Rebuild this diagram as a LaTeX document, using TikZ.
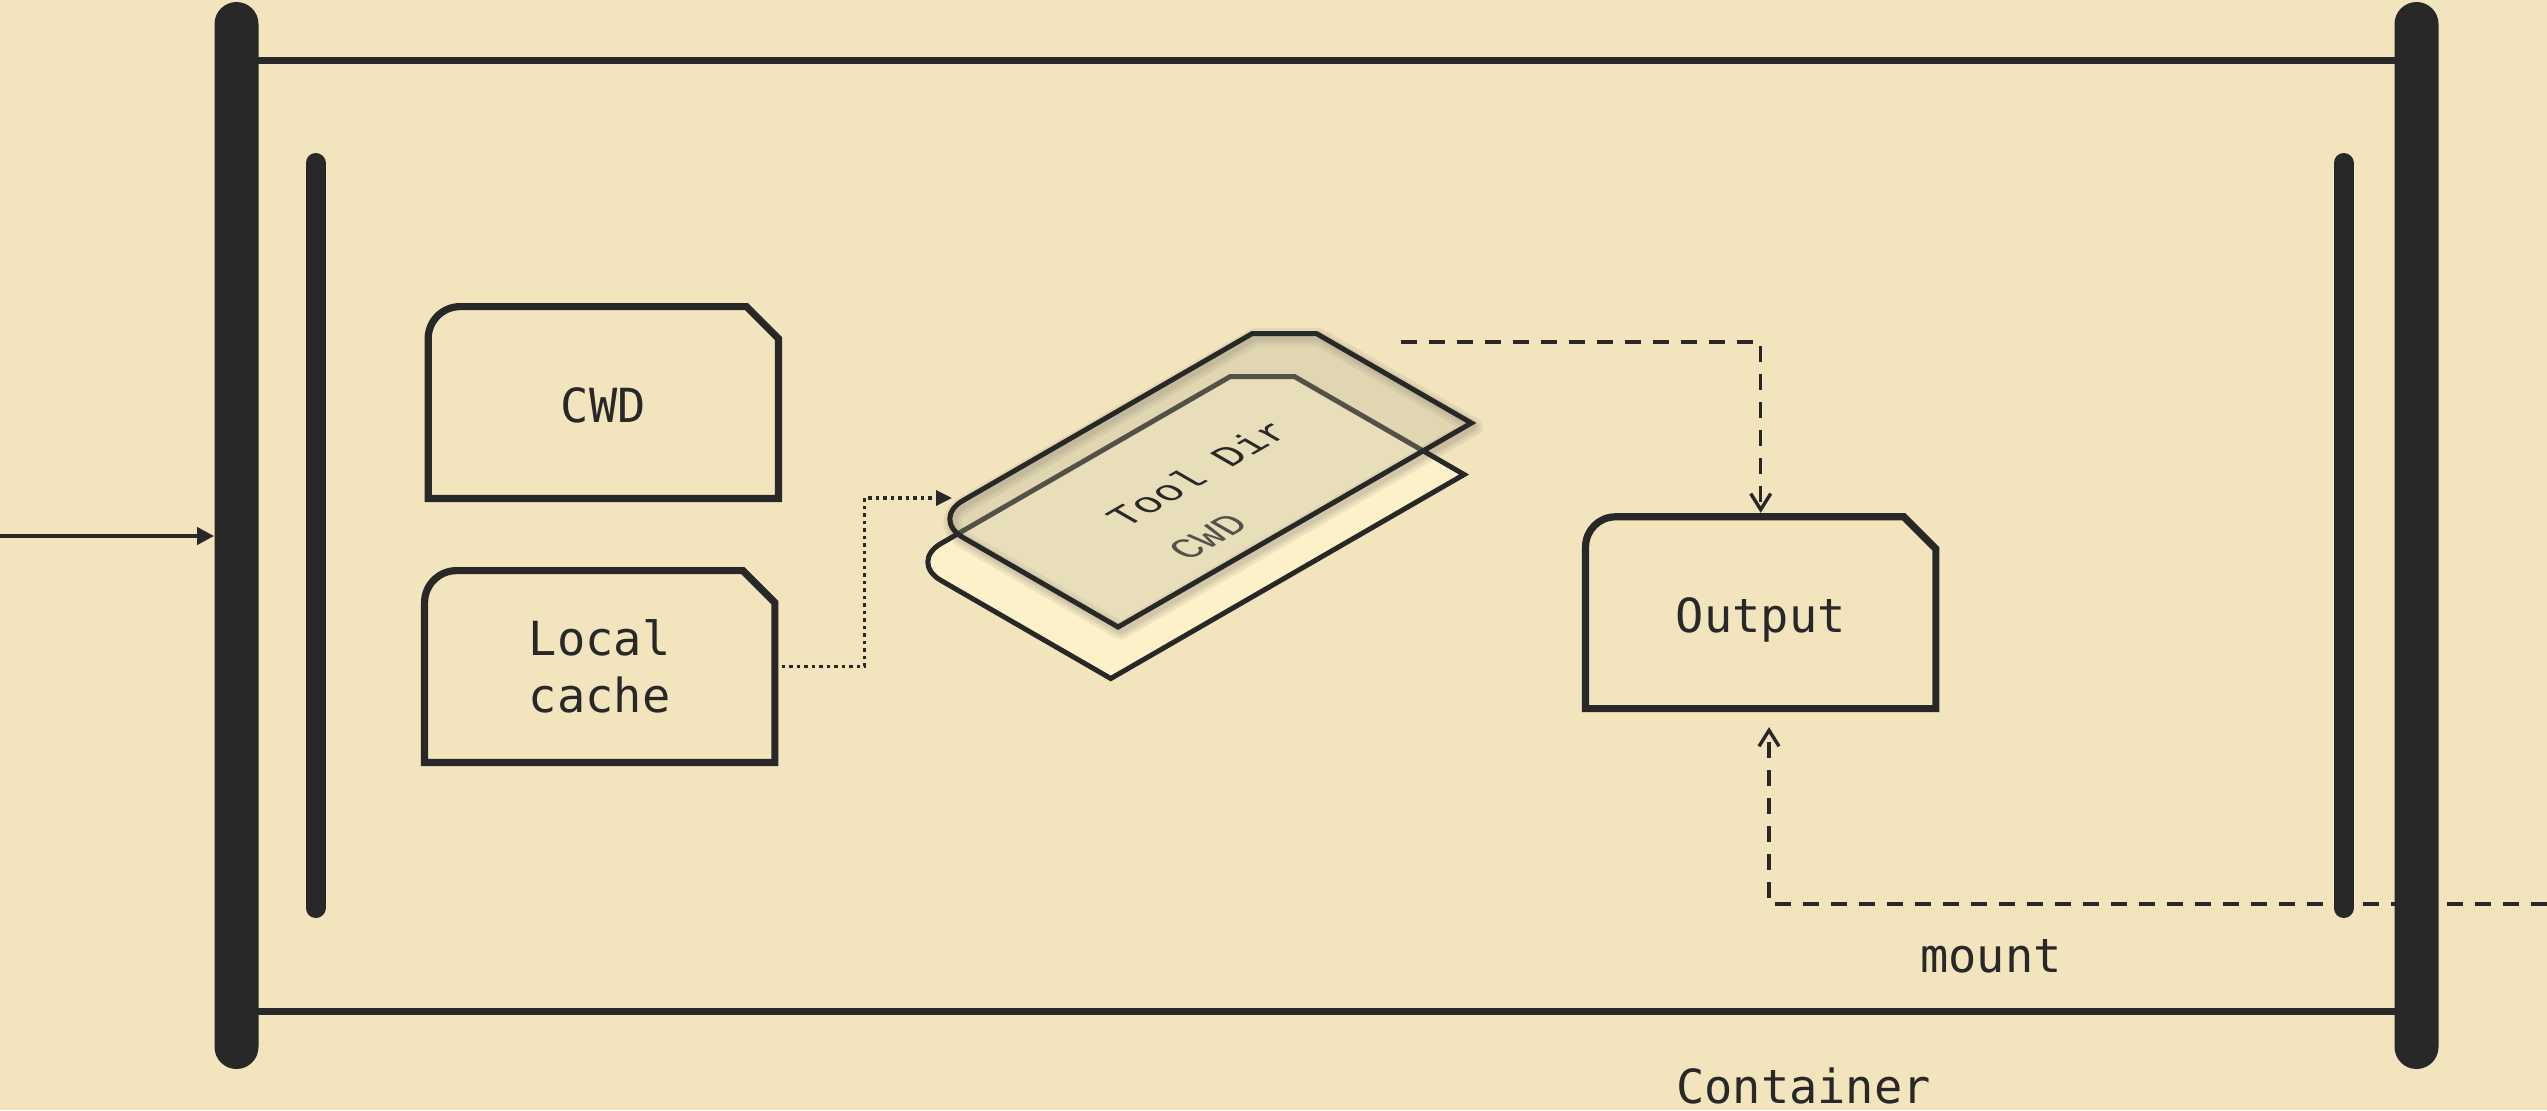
\documentclass[tikz,border=0pt]{standalone}
\usepackage{fontspec}
\setmonofont{DejaVu Sans Mono}
\newfontfamily\cardfont{Liberation Mono}
\usetikzlibrary{arrows.meta}
\definecolor{bg}{HTML}{F2E4BC}
\definecolor{ink}{HTML}{282828}
\definecolor{cardlow}{HTML}{FDF1C9}
\definecolor{cardtop}{HTML}{B9B698}
\newcommand\tagbox[3]{\draw[boxline] ([yshift=-#2]#1.north west) arc[start angle=180,end angle=90,radius=#2] -- ([xshift=-#3]#1.north east) -- ([yshift=-#3]#1.north east) -- (#1.south east) -- (#1.south west) -- cycle;}
\begin{document}
\begin{tikzpicture}[x=0.5pt,y=-0.5pt,
 lbl/.style={font=\ttfamily\fontsize{23.5pt}{28.5pt}\selectfont, text=ink, align=center},
 boxnode/.style={lbl, minimum width=174.75pt, minimum height=95.5pt, inner sep=0pt},
 oneline/.style={text height=24.2pt, text depth=4pt},
 boxline/.style={draw=ink, line width=3.6pt, line join=miter},
 wall/.style={fill=ink, minimum width=22pt, minimum height=533.5pt, rounded corners=11pt, inner sep=0pt},
 innerbar/.style={draw=ink, line width=10pt, line cap=round},
 frameline/.style={draw=ink, line width=3.5pt},
 solidconn/.style={draw=ink, line width=2pt, -{Triangle[length=8.5pt,width=8.5pt]}},
 dotconn/.style={draw=ink, line width=1.7pt, dash pattern=on 1.75pt off 2pt, -{Triangle[length=8pt,width=7.5pt]}},
 dashconn/.style={draw=ink, line width=1.7pt, dash pattern=on 8pt off 6pt, -{Straight Barb[length=8pt,width=10pt]}},
 isotf/.style={cm={0.866,0.5,-0.866,0.5,(0,0)}},
 cardline/.style={draw=ink, line width=2.5pt, line join=miter},
 cardtext/.style={font=\cardfont\fontsize{20pt}{24pt}\selectfont, text=ink, transform shape, inner sep=0pt},
 glow/.style={draw=ink, draw opacity=0.07, line join=round},
]
\fill[bg] (0,0) rectangle (2547,1110);
\useasboundingbox (0,0) rectangle (2547,1110);

% container frame
\draw[frameline] (240,60) -- (2410,60);
\draw[frameline] (240,1011) -- (2410,1011);
\node[wall] (wallL) at (236.5,535.5) {};
\node[wall] (wallR) at (2416.5,535.5) {};
\draw[innerbar] (315.5,163) -- (315.5,908);
\draw[innerbar] (2343.5,163) -- (2343.5,908);

% boxes
\node[boxnode, oneline] (cwd) at (603.3,402.5) {CWD};
\tagbox{cwd}{16pt}{16pt}
\node[boxnode] (cache) at (599.7,666.5) {Local\\cache};
\tagbox{cache}{16pt}{16pt}
\node[boxnode, oneline] (out) at (1760.7,612.7) {Output};
\tagbox{out}{15pt}{16pt}

% lower card (CWD)
\begin{scope}[shift={(909,562)}, isotf]
 \draw[cardline, fill=cardlow] (0,37) .. controls (0,16.6) and (16.6,0) .. (37,0) -- (371,0) -- (408,37) -- (408,233) -- (0,233) -- cycle;
 \node[cardtext] (lowtxt) at (198,148) {CWD};
\end{scope}
% shadow of upper card
\begin{scope}[shift={(933.5,522.5)}, isotf]
 \foreach \w in {9pt,6pt,3.5pt}{
 \draw[glow, line width=\w] (0,37) .. controls (0,16.6) and (16.6,0) .. (37,0) -- (371,0) -- (408,37) -- (408,216) -- (0,216) -- cycle;}
\end{scope}
% upper card (Tool Dir)
\begin{scope}[shift={(931,519)}, isotf]
 \draw[cardline, fill=cardtop, fill opacity=0.3] (0,37) .. controls (0,16.6) and (16.6,0) .. (37,0) -- (371,0) -- (408,37) -- (408,216) -- (0,216) -- cycle;
 \node[cardtext] (toptxt) at (200,108) {Tool Dir};
\end{scope}

% labels
\node[lbl, anchor=base] (mountlbl) at (1991,972) {mount};
\node[lbl, anchor=base] (contlbl) at (1803.5,1103) {Container};

% connectors
\coordinate (ext) at (0,536);
\coordinate (tdin) at (952,498);
\coordinate (tdout) at (1401,342);
\coordinate (mnt) at (2547,904);
\draw[solidconn] (ext) -- (ext -| wallL.west);
\draw[dotconn] ([xshift=3.5pt]cache.east) -- ++(82.5,0) |- (tdin);
\draw[dashconn] (tdout) -| ([yshift=2pt]out.north);
\draw[dashconn] (mnt) -| ([xshift=4.15pt,yshift=-9.25pt]out.south);
\end{tikzpicture}
\end{document}
